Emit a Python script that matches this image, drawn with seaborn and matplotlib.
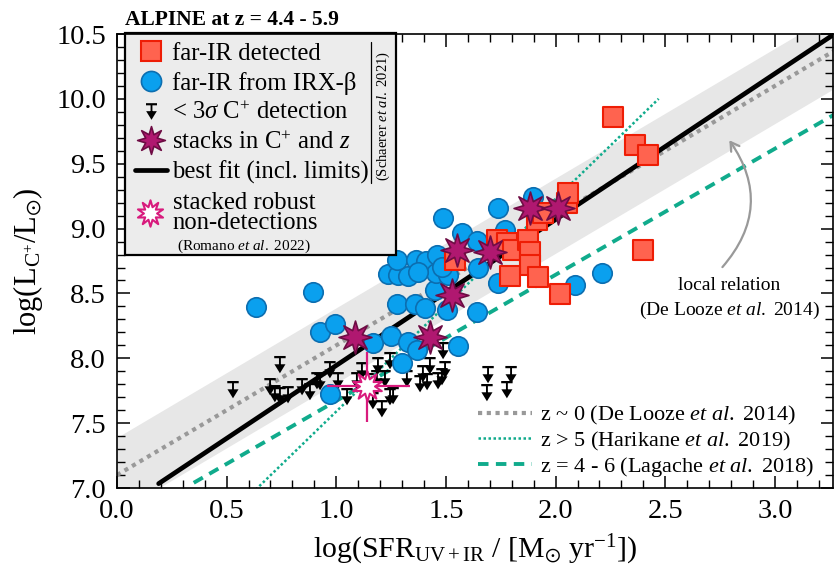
import numpy as np
import matplotlib
matplotlib.use("Agg")
import matplotlib.pyplot as plt
from matplotlib.path import Path
from matplotlib.lines import Line2D
from matplotlib.patches import Rectangle
from matplotlib.ticker import MultipleLocator
import seaborn as sns

# ---------------------------------------------------------------- data
# galaxies with a far-IR continuum detection
det_sfr = [1.541, 1.733, 1.778, 1.806, 1.874, 1.883, 1.883, 1.792, 1.920, 2.020,
           1.915, 1.943, 2.052, 2.057, 2.262, 2.362, 2.421, 2.399]
det_lcii = [8.758, 8.912, 8.889, 8.835, 8.912, 8.820, 8.719, 8.635, 8.627, 8.496,
            9.066, 9.120, 9.197, 9.274, 9.860, 9.645, 9.567, 8.835]

# galaxies whose far-IR luminosity comes from IRX-beta
irx_sfr = [0.634, 0.894, 0.926, 0.994, 0.971, 1.167, 1.249, 1.327, 1.368, 1.300,
           1.277, 1.359, 1.404, 1.450, 1.505, 1.642, 1.555, 1.236, 1.281, 1.327,
           1.277, 1.363, 1.409, 1.455, 1.509, 1.487, 1.573, 1.642, 1.769, 1.737,
           1.897, 1.459, 1.482, 1.646, 1.737, 2.088, 2.212, 1.373]
irx_lcii = [8.396, 8.511, 8.203, 8.264, 7.725, 8.118, 8.172, 8.126, 8.064, 7.964,
            8.419, 8.419, 8.388, 8.527, 8.372, 8.357, 8.095, 8.650, 8.642, 8.635,
            8.758, 8.758, 8.750, 8.658, 8.642, 9.082, 8.966, 8.904, 8.989, 9.159,
            9.244, 8.796, 8.704, 8.696, 8.581, 8.565, 8.658, 8.665]

# 3-sigma upper limits on the [CII] luminosity
lim_sfr = [0.529, 0.743, 0.698, 0.720, 0.743, 0.780, 0.844, 0.912, 0.880, 0.926,
           0.971, 1.008, 1.049, 1.094, 1.117, 1.145, 1.167, 1.185, 1.190, 1.245,
           1.222, 1.259, 1.208, 1.245, 1.322, 1.382, 1.395, 1.414, 1.427, 1.464,
           1.487, 1.496, 1.482, 1.692, 1.797, 1.687, 1.778]
lim_lcii = [7.825, 8.018, 7.848, 7.794, 7.779, 7.786, 7.848, 7.894, 7.810, 7.887,
            7.979, 7.894, 7.771, 7.894, 7.971, 7.887, 7.740, 7.910, 8.010, 8.049,
            7.910, 7.779, 7.678, 7.771, 7.910, 7.871, 7.948, 7.887, 8.010, 7.894,
            8.126, 7.979, 7.925, 7.941, 7.941, 7.802, 7.825]

# stacks in C+ and redshift
stack_sfr = [1.085, 1.427, 1.528, 1.550, 1.701, 1.883, 2.011]
stack_lcii = [8.164, 8.164, 8.488, 8.835, 8.820, 9.159, 9.159]

# stacked robust non-detections
rob_sfr = [1.138]
rob_lcii = [7.786]
rob_xerr = [[0.18], [0.20]]
rob_yerr = [[0.28], [0.26]]

# relations: (slope, intercept, x-start, x-end)
fit_rel = (1.125, 6.82, 0.19, 3.3)
delooze_rel = (1.00, 7.10, 0.0, 3.3)
delooze_scatter = 0.29
harikane_rel = (1.64, 5.95, 0.60, 2.47)
lagache_rel = (0.972, 6.70, 0.35, 3.3)

# ---------------------------------------------------------------- style
sns.set_theme(style="ticks")
plt.rcParams.update({
    "font.family": ["Liberation Serif", "DejaVu Serif"],
    "mathtext.fontset": "custom",
    "mathtext.rm": "Liberation Serif",
    "mathtext.it": "Liberation Serif:italic",
    "mathtext.bf": "Liberation Serif:bold",
    "mathtext.fallback": "stix",
    "axes.edgecolor": "black",
    "axes.linewidth": 1.2,
    "xtick.color": "black",
    "ytick.color": "black",
    "text.color": "black",
    "axes.labelcolor": "black",
})

RED_FACE, RED_EDGE = "#ff634f", "#ee1d05"
BLUE_FACE, BLUE_EDGE = "#0aa0ee", "#0c6eb0"
STAR_FACE, STAR_EDGE = "#b01870", "#6e0c44"
PINK = "#d81b7d"
TEAL = "#10ab8c"
GREY = "#999999"


def limit_marker(centered=False):
    """Bar + stem + downward arrowhead; origin at the bar unless centered."""
    cap = [(-0.33, 0.0), (0.33, 0.0), (0.33, -0.13), (-0.33, -0.13), (-0.33, 0.0)]
    stem = [(-0.055, -0.13), (0.055, -0.13), (0.055, -0.50), (-0.055, -0.50), (-0.055, -0.13)]
    head = [(-0.32, -0.48), (0.32, -0.48), (0.0, -1.0), (-0.32, -0.48)]
    verts, codes = [], []
    for poly in (cap, stem, head):
        verts += poly
        codes += [Path.MOVETO] + [Path.LINETO] * (len(poly) - 2) + [Path.CLOSEPOLY]
    verts = np.array(verts, dtype=float)
    if centered:
        verts[:, 1] += 0.5
    return Path(verts, codes)


def burst(n, inner):
    return Path.unit_regular_star(n, inner)


LIM_M = limit_marker()
LIM_M_LEG = limit_marker(centered=True)
STAR_M = burst(8, 0.45)
ROB_M = burst(10, 0.5)

# ---------------------------------------------------------------- figure
fig = plt.figure(figsize=(8.35, 5.74), dpi=100)
ax = fig.add_axes([0.1401, 0.1498, 0.8575, 0.7909])

# local relation with its scatter
xb = np.linspace(delooze_rel[2], delooze_rel[3], 50)
yb = delooze_rel[0] * xb + delooze_rel[1]
ax.fill_between(xb, yb - delooze_scatter, yb + delooze_scatter,
                color="#e7e7e7", lw=0, zorder=0.5)


def relation(rel, n=2):
    s, b, x0, x1 = rel
    x = np.linspace(x0, x1, n)
    return x, s * x + b


x, y = relation(delooze_rel)
sns.lineplot(x=x, y=y, ax=ax, color=GREY, lw=3.0, linestyle=(0, (1.0, 1.1)),
             dash_capstyle="butt", zorder=1.5)
x, y = relation(harikane_rel)
sns.lineplot(x=x, y=y, ax=ax, color=TEAL, lw=1.8, linestyle=(0, (1.0, 1.0)),
             dash_capstyle="butt", zorder=1.5)
x, y = relation(lagache_rel)
sns.lineplot(x=x, y=y, ax=ax, color=TEAL, lw=2.8, linestyle=(0, (2.7, 1.9)),
             dash_capstyle="butt", zorder=1.5)
x, y = relation(fit_rel)
sns.lineplot(x=x, y=y, ax=ax, color="black", lw=3.4, zorder=1.8)

# data points
sns.scatterplot(x=lim_sfr, y=lim_lcii, ax=ax, marker=LIM_M, s=620,
                color="black", edgecolor="none", linewidth=0, zorder=3)
sns.scatterplot(x=irx_sfr, y=irx_lcii, ax=ax, marker="o", s=196,
                color=BLUE_FACE, edgecolor=BLUE_EDGE, linewidth=1.2, zorder=4)
sns.scatterplot(x=det_sfr, y=det_lcii, ax=ax, marker="s", s=200,
                color=RED_FACE, edgecolor=RED_EDGE, linewidth=1.5, zorder=5)
sns.scatterplot(x=stack_sfr, y=stack_lcii, ax=ax, marker=STAR_M, s=560,
                color=STAR_FACE, edgecolor=STAR_EDGE, linewidth=1.2, zorder=6)
ax.errorbar(rob_sfr, rob_lcii, xerr=rob_xerr, yerr=rob_yerr, fmt="none",
            ecolor=PINK, elinewidth=1.6, capsize=0, zorder=7)
sns.scatterplot(x=rob_sfr, y=rob_lcii, ax=ax, marker=ROB_M, s=470,
                color="white", edgecolor=PINK, linewidth=1.5, zorder=8)

# axes
ax.set_xlim(0.0, 3.265)
ax.set_ylim(7.0, 10.5)
ax.xaxis.set_major_locator(MultipleLocator(0.5))
ax.xaxis.set_minor_locator(MultipleLocator(0.1))
ax.yaxis.set_major_locator(MultipleLocator(0.5))
ax.yaxis.set_minor_locator(MultipleLocator(0.1))
ax.tick_params(which="both", direction="in", top=True, right=True,
               labelsize=20.5, colors="black")
ax.tick_params(which="major", length=9, width=1.1, pad=8)
ax.tick_params(which="minor", length=5.5, width=1.0)
for sp in ax.spines.values():
    sp.set_zorder(12)
ax.set_xlabel(r"log(SFR$_{\mathrm{UV+IR}}$ / [M$_{\odot}$ yr$^{-1}$])",
              fontsize=21.5, labelpad=6)
ax.set_ylabel(r"log(L$_{\mathrm{C}^{+}}$/L$_{\odot}$)", fontsize=22, labelpad=8)

ax.text(0.011, 1.02, "ALPINE at z = 4.4 - 5.9", transform=ax.transAxes,
        fontsize=15.5, fontweight="bold", ha="left", va="baseline")

# local relation annotation
ax.text(0.855, 0.447, "local relation", transform=ax.transAxes,
        fontsize=14, ha="center", va="center")
ax.text(0.855, 0.392, r"(De Looze $\mathit{et\ al.}$ 2014)", transform=ax.transAxes,
        fontsize=14, ha="center", va="center")
ax.annotate("", xy=(0.853, 0.771), xytext=(0.843, 0.482),
            xycoords="axes fraction", textcoords="axes fraction",
            arrowprops=dict(arrowstyle="->,head_length=0.5,head_width=0.3",
                            color=GREY, lw=1.6,
                            connectionstyle="arc3,rad=0.4"))

# upper-left legend with its own box
box = Rectangle((0.0112, 0.513), 0.3785, 0.489, transform=ax.transAxes,
                facecolor="#ececec", edgecolor="black", lw=1.6,
                zorder=10, clip_on=False)
ax.add_patch(box)
handles = [
    Line2D([], [], ls="none", marker="s", ms=14.5, mfc=RED_FACE, mec=RED_EDGE, mew=1.5),
    Line2D([], [], ls="none", marker="o", ms=14.5, mfc=BLUE_FACE, mec=BLUE_EDGE, mew=1.2),
    Line2D([], [], ls="none", marker=LIM_M_LEG, ms=12, mfc="black", mec="none", mew=0),
    Line2D([], [], ls="none", marker=STAR_M, ms=20, mfc=STAR_FACE, mec=STAR_EDGE, mew=1.2),
    Line2D([], [], color="black", lw=3.4),
]
labels = ["far-IR detected", "far-IR from IRX-β", r"< 3$\sigma$ C$^{+}$ detection",
          r"stacks in C$^{+}$ and $z$", "best fit (incl. limits)"]
leg1 = ax.legend(handles, labels, loc="upper left", bbox_to_anchor=(0.025, 0.981),
                 frameon=False, fontsize=17.8, handlelength=1.3, handletextpad=0.2,
                 labelspacing=0.27, borderpad=0, borderaxespad=0)
leg1.set_zorder(11)
ax.add_artist(leg1)

# stacked non-detection entry, credits and the side note inside the box
ax.plot([0.0461], [0.6057], transform=ax.transAxes, ls="none", marker=ROB_M, ms=19,
        mfc="white", mec=PINK, mew=1.5, zorder=11, clip_on=False)
ax.text(0.0782, 0.6057, "stacked robust\nnon-detections", transform=ax.transAxes,
        fontsize=17.8, ha="left", va="center", linespacing=0.88, zorder=11)
ax.text(0.177, 0.533, r"(Romano $\mathit{et\ al.}$ 2022)", transform=ax.transAxes,
        fontsize=11, ha="center", va="center", zorder=11)
ax.text(0.372, 0.819, r"(Schaerer $\mathit{et\ al.}$ 2021)", transform=ax.transAxes,
        fontsize=10.5, ha="center", va="center", rotation=90, zorder=11)
ax.plot([0.355, 0.355], [0.672, 0.982], transform=ax.transAxes, color="black",
        lw=0.9, zorder=11, clip_on=False)

# lower-right legend for the literature relations
rel_handles = [
    Line2D([], [], color=GREY, lw=3.0, linestyle=(0, (1.0, 1.1)), dash_capstyle="butt"),
    Line2D([], [], color=TEAL, lw=1.8, linestyle=(0, (1.0, 1.0)), dash_capstyle="butt"),
    Line2D([], [], color=TEAL, lw=2.8, linestyle=(0, (2.7, 1.9)), dash_capstyle="butt"),
]
rel_labels = [r"z ~ 0 (De Looze $\mathit{et\ al.}$ 2014)",
              r"z > 5 (Harikane $\mathit{et\ al.}$ 2019)",
              r"z = 4 - 6 (Lagache $\mathit{et\ al.}$ 2018)"]
leg2 = ax.legend(rel_handles, rel_labels, loc="lower left", bbox_to_anchor=(0.504, 0.02),
                 frameon=False, fontsize=16, handlelength=2.45, handletextpad=0.35,
                 labelspacing=0.1, borderpad=0, borderaxespad=0)
leg2.set_zorder(11)

fig.savefig("out.png", dpi=100)
